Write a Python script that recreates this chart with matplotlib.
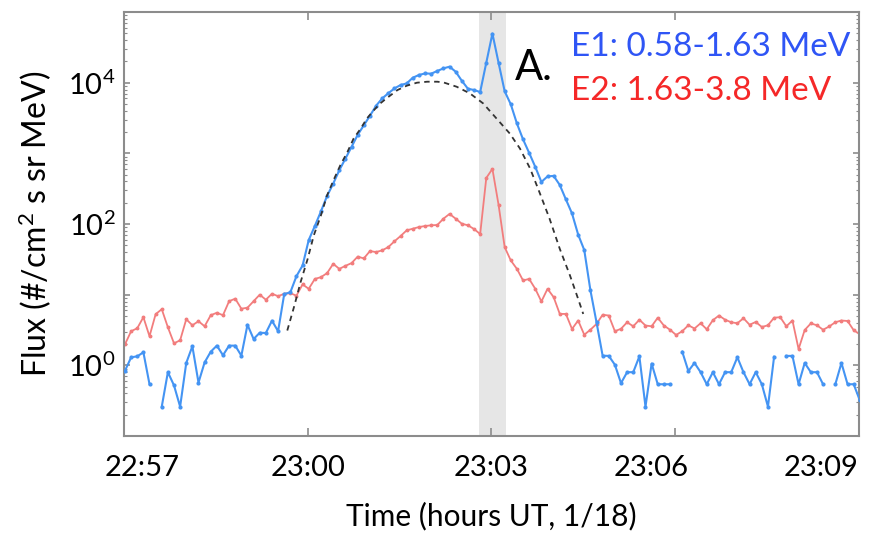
import numpy as np
import matplotlib
matplotlib.use('Agg')
import matplotlib.pyplot as plt
import matplotlib.dates as mdates
from matplotlib.ticker import LogLocator, FuncFormatter, NullFormatter

plt.rcParams['font.family'] = ['Lato', 'DejaVu Sans']
plt.rcParams['mathtext.fontset'] = 'custom'
plt.rcParams['mathtext.rm'] = 'Lato'
plt.rcParams['mathtext.it'] = 'Lato:italic'
plt.rcParams['mathtext.bf'] = 'Lato:bold'

# E1 / E2 flux, 6 s cadence starting 22:57:01 (nan = missing sample)
day = '2000-01-18'
start_time = '22:57:01'
cadence_s = 6

e1_flux = [0.84, 1.30, 1.34, 1.53, 0.54, np.nan, 0.26, 0.80, 0.52, 0.26,
           1.08, 1.86, 0.57, 1.10, 1.56, 1.90, 1.39, 1.90, 1.90, 1.37,
           3.75, 2.36, 2.89, 2.87, 4.28, 3.04, 10.2, 10.8, 18.3, 25.9,
           59.3, 93.7, 151, 250, 373, 578, 844, 1237, 1830, 2495,
           3404, 4717, 5990, 7096, 8300, 9270, 9770, 11770, 12850, 13540,
           13420, 14660, 15950, 16860, 14320, 10660, 8220, 7880, 7380, 19230,
           49550, 19230, 7570, 4950, 2650, 1580, 1016, 644, 394, 472,
           480, 357, 223, 141, 71, 42.8, 11.6, 4.07, 1.37, 1.36,
           1.02, 0.56, 0.80, 0.80, 1.34, 0.26, 1.06, 0.54, 0.54, 0.54,
           np.nan, 1.56, 0.83, 1.08, 0.80, 0.54, 0.80, 0.54, 0.80, 0.80,
           1.30, 0.80, 0.54, 0.80, 0.54, 0.26, 1.32, np.nan, 1.36, 1.36,
           0.54, 1.08, 0.80, 0.80, 0.54, np.nan, 0.54, 1.08, 0.54, 0.54,
           0.32]

e2_flux = [1.99, 3.04, 3.35, 4.80, 2.58, 5.29, 6.23, 3.46, 2.05, 2.26,
           4.49, 3.69, 4.21, 3.57, 5.12, 5.55, 5.12, 8.09, 8.78, 6.33,
           6.54, 8.09, 10.0, 8.49, 10.3, 9.52, 10.3, 10.5, 9.68, 14.0,
           12.1, 16.7, 17.7, 20.2, 27.3, 23.2, 25.6, 28.0, 34.6, 32.6,
           41.4, 40.1, 42.4, 47.2, 56.9, 67.6, 81.4, 85.8, 90.6, 93.7,
           95.9, 96.8, 119, 139, 119, 101, 95.9, 85.0, 72.1, 449,
           603, 188, 47.2, 30.5, 23.2, 15.9, 16.7, 12.1, 8.01, 12.1,
           9.22, 5.34, 5.34, 3.27, 4.31, 2.71, 3.19, 3.85, 5.20, 5.07,
           3.04, 3.29, 4.07, 3.57, 4.42, 3.66, 3.57, 4.72, 3.66, 3.19,
           2.69, 3.04, 3.69, 3.32, 3.94, 3.24, 4.35, 5.07, 4.42, 4.07,
           3.94, 4.64, 3.75, 4.11, 3.49, 3.69, 4.72, 4.80, 3.57, 4.31,
           1.70, 3.16, 3.92, 3.69, 3.19, 3.55, 4.07, 4.31, 4.24, 3.14,
           2.75]

# dashed fit curve
fit_times = ['22:59:40', '22:59:47', '22:59:53', '23:00:00', '23:00:06',
             '23:00:13', '23:00:19', '23:00:26', '23:00:32', '23:00:39',
             '23:00:45', '23:00:52', '23:00:58', '23:01:05', '23:01:11',
             '23:01:18', '23:01:28', '23:01:37', '23:01:47', '23:01:57',
             '23:02:07', '23:02:13', '23:02:26', '23:02:39', '23:02:52',
             '23:03:05', '23:03:18', '23:03:28', '23:03:38', '23:03:47',
             '23:03:57', '23:04:07', '23:04:17', '23:04:25', '23:04:30']
fit_flux = [3.11, 7.03, 15.0, 32.2, 69.2, 133, 255, 439, 680, 1050,
            1622, 2248, 3117, 4102, 5085, 6124, 7876, 9066, 10000, 10330,
            10330, 10100, 8770, 7050, 5085, 3117, 1910, 1170, 608, 284,
            119, 44.6, 18.7, 8.72, 5.34]

shade_start = '23:02:48'
shade_end = '23:03:14'
x_ticks = ['22:57', '23:00', '23:03', '23:06', '23:09']
# the original tick labels sit a bit off their ticks (pixels)
x_label_shift = [18, 0, 0, -24, -38]


def ts(hms):
    if hms.count(':') == 1:
        hms = hms + ':00'
    return np.datetime64(f'{day}T{hms}', 's')


def main():
    n = len(e1_flux)
    t = ts(start_time) + np.arange(n) * np.timedelta64(cadence_s, 's')
    t_fit = np.array([ts(s) for s in fit_times])

    fig = plt.figure(figsize=(8.8, 5.38), dpi=100)
    ax = fig.add_axes([0.1409, 0.1896, 0.835, 0.788])

    ax.axvspan(ts(shade_start), ts(shade_end), color='#e6e6e6', zorder=0, lw=0)

    ax.plot(t, e2_flux, color='#f27d7d', lw=1.3, marker='o', ms=1.8, zorder=2)
    ax.plot(t, e1_flux, color='#4494f3', lw=1.5, marker='o', ms=2.0, zorder=3)
    ax.plot(t_fit, fit_flux, color='#333333', lw=1.3, ls=(0, (3, 2.5)), zorder=4)

    ax.set_yscale('log')
    ax.set_ylim(1e-1, 1e5)
    ax.set_xlim(ts('22:57'), ts('23:09'))

    ax.set_xticks([ts(s) for s in x_ticks])
    ax.tick_params(axis='x', labelbottom=False)

    ax.yaxis.set_major_locator(LogLocator(base=10, numticks=20))
    ax.yaxis.set_minor_locator(LogLocator(base=10, subs=np.arange(2, 10), numticks=20))
    ax.yaxis.set_minor_formatter(NullFormatter())

    def fmt(v, pos):
        e = int(round(np.log10(v)))
        if e in (0, 2, 4):
            return r'$\mathregular{10^{%d}}$' % e
        return ''
    ax.yaxis.set_major_formatter(FuncFormatter(fmt))

    for s in ax.spines.values():
        s.set_color('#8c8c8c')
        s.set_linewidth(1.5)
    ax.tick_params(which='both', direction='in', top=True, right=True, color='#8c8c8c')
    ax.tick_params(which='major', length=6, width=1.2, labelsize=21, pad=10)
    ax.tick_params(axis='y', which='major', length=4, pad=6)
    ax.tick_params(which='minor', length=2.5, width=0.8)

    # time labels, placed by hand because they are offset from the ticks
    for s, dx in zip(x_ticks, x_label_shift):
        ax.annotate(s, xy=(mdates.date2num(ts(s)), 0), xycoords=ax.get_xaxis_transform(),
                    xytext=(dx, -19), textcoords='offset pixels',
                    ha='center', va='top', fontsize=21)

    ax.set_xlabel('Time (hours UT, 1/18)', fontsize=21.5)
    ax.xaxis.set_label_coords(0.5, -0.155)
    ax.set_ylabel(r'Flux (#/cm$\mathregular{^2}$ s sr MeV)', fontsize=23, labelpad=10)

    ax.text(0.532, 0.840, 'A.', transform=ax.transAxes, fontsize=30, color='black')
    ax.text(0.609, 0.896, 'E1: 0.58-1.63 MeV', transform=ax.transAxes,
            fontsize=24, color='#2f55f5')
    ax.text(0.609, 0.792, 'E2: 1.63-3.8 MeV', transform=ax.transAxes,
            fontsize=24, color='#f52828')

    fig.savefig('out.png', dpi=100)


if __name__ == '__main__':
    main()
